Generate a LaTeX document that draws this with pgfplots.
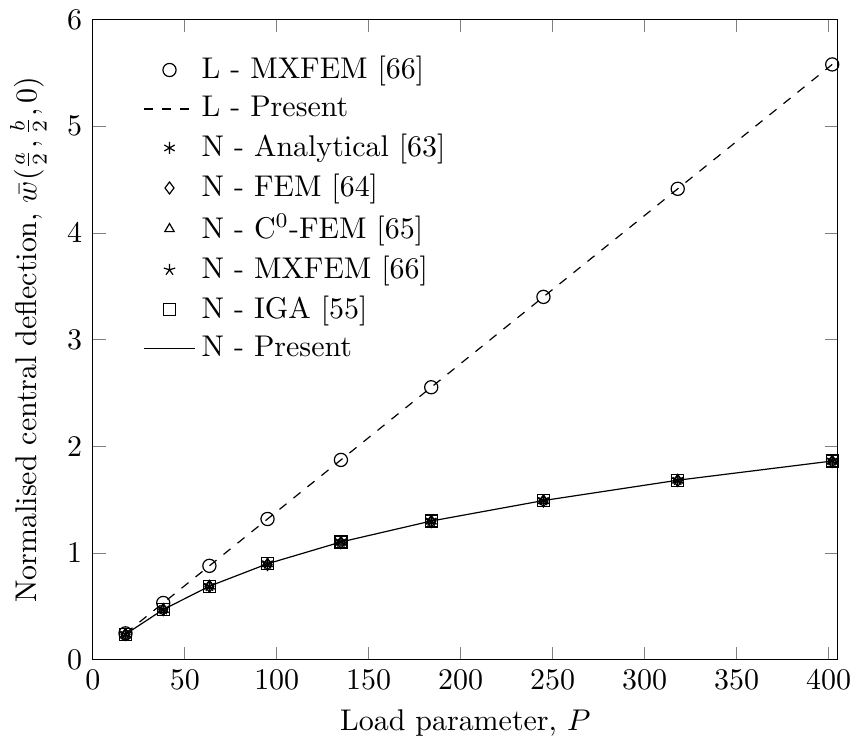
\documentclass[border=0pt]{standalone}
\usepackage{pgfplots}
\pgfplotsset{compat=1.18}
\begin{document}
\begin{tikzpicture}
\begin{axis}[
  width=248.7pt, height=213.7pt, scale only axis,
  xmin=0, xmax=405, ymin=0, ymax=6,
  xtick={0,50,...,400}, ytick={0,1,...,6},
  xlabel={Load parameter, $P$},
  ylabel={Normalised central deflection, $\bar{w}(\frac{a}{2},\frac{b}{2},0)$},
  legend style={draw=none, fill=none, at={(0.055,0.962)}, anchor=north west, font=\normalsize, row sep=0.35pt},
  legend cell align=left,
]
\addplot[black, only marks, mark=o, mark size=2.2pt] coordinates {
(17.79,0.247)(38.3,0.532)(63.4,0.880)(95.0,1.319)(134.9,1.873)(184.0,2.554)(245.0,3.401)(318.0,4.414)(402.0,5.580)};
\addlegendentry{L - MXFEM [66]}
\addplot[black, dashed, no marks] coordinates {
(17.79,0.247)(38.3,0.532)(63.4,0.880)(95.0,1.319)(134.9,1.873)(184.0,2.554)(245.0,3.401)(318.0,4.414)(402.0,5.580)};
\addlegendentry{L - Present}
\addplot[black, only marks, mark=asterisk, mark size=2pt] coordinates {
(17.79,0.2392)(38.3,0.4700)(63.4,0.6888)(95.0,0.9000)(134.9,1.1050)(184.0,1.3000)(245.0,1.4930)(318.0,1.6820)(402.0,1.8630)};
\addlegendentry{N - Analytical [63]}
\addplot[black, only marks, mark=diamond, mark size=2pt] coordinates {
(17.79,0.2368)(38.3,0.4699)(63.4,0.6884)(95.0,0.8930)(134.9,1.0975)(184.0,1.2950)(245.0,1.4880)(318.0,1.6800)(402.0,1.8580)};
\addlegendentry{N - FEM [64]}
\addplot[black, only marks, mark=triangle, mark size=1.8pt] coordinates {
(17.79,0.2380)(38.3,0.4710)(63.4,0.6900)(95.0,0.8980)(134.9,1.1010)(184.0,1.2990)(245.0,1.4900)(318.0,1.6830)(402.0,1.8600)};
\addlegendentry{N - C$^0$-FEM [65]}
\addplot[black, only marks, mark=star, mark size=2pt] coordinates {
(17.79,0.2390)(38.3,0.4720)(63.4,0.6910)(95.0,0.9010)(134.9,1.1060)(184.0,1.3020)(245.0,1.4950)(318.0,1.6850)(402.0,1.8680)};
\addlegendentry{N - MXFEM [66]}
\addplot[black, only marks, mark=square, mark size=2pt] coordinates {
(17.79,0.2375)(38.3,0.4705)(63.4,0.6890)(95.0,0.8990)(134.9,1.1030)(184.0,1.3000)(245.0,1.4920)(318.0,1.6820)(402.0,1.8620)};
\addlegendentry{N - IGA [55]}
\addplot[black, no marks] coordinates {
(17.79,0.2385)(38.3,0.4702)(63.4,0.6892)(95.0,0.8995)(134.9,1.1035)(184.0,1.3000)(245.0,1.4920)(318.0,1.6825)(402.0,1.8625)};
\addlegendentry{N - Present}
\end{axis}
\end{tikzpicture}
\end{document}
